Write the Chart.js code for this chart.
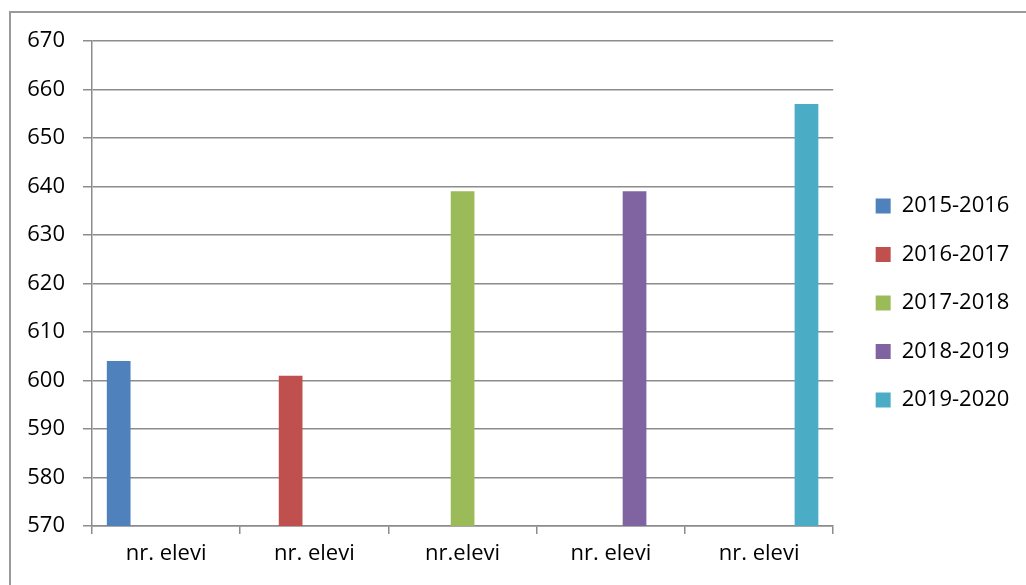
<!DOCTYPE html>
<html>
<head>
<meta charset="utf-8">
<script src="https://cdn.jsdelivr.net/npm/chart.js@4"></script>
<style>
  html, body { margin: 0; padding: 0; background: #fff; }
  #wrap { position: relative; width: 1026px; height: 585px; overflow: hidden; }
  #frame { position: absolute; left: 9px; top: 11px; width: 1100px; height: 700px; border: 2px solid #9a9a9a; pointer-events: none; }
  canvas { position: absolute; left: 0; top: 0; }
</style>
</head>
<body>
<div id="wrap">
  <canvas id="chart" width="1026" height="585"></canvas>
  <div id="frame"></div>
</div>
<script>
const categories = ['nr. elevi', 'nr. elevi', 'nr.elevi', 'nr. elevi', 'nr. elevi'];
const seasons = ['2015-2016', '2016-2017', '2017-2018', '2018-2019', '2019-2020'];
const values = [604, 601, 639, 639, 657];
const colors = ['#4F81BD', '#C0504D', '#9BBB59', '#8064A2', '#4BACC6'];
const yTicks = [570, 580, 590, 600, 610, 620, 630, 640, 650, 660, 670];

const gridColor = '#8c8c8c';
const font = { family: 'Open Sans', size: 22 };

// each season only has a value in its own column, the rest stay empty
const datasets = seasons.map((s, i) => ({
    label: s,
    data: categories.map((c, j) => (j === i ? values[i] : null)),
    backgroundColor: colors[i],
    borderWidth: 0,
    categoryPercentage: 0.8,
    barPercentage: 1.0
}));

const ctx = document.getElementById('chart').getContext('2d');

const chart = new Chart(ctx, {
    type: 'bar',
    data: {
        labels: categories,
        datasets: datasets
    },
    options: {
        responsive: false,
        animation: false,
        layout: {
            padding: { top: 41, bottom: 20, left: 0, right: 7 }
        },
        plugins: {
            legend: {
                display: true,
                position: 'right',
                align: 'center',
                labels: {
                    boxWidth: 15,
                    boxHeight: 15,
                    padding: 26.5,
                    color: '#000',
                    font: font
                }
            },
            tooltip: { enabled: false }
        },
        scales: {
            x: {
                type: 'category',
                offset: true,
                grid: {
                    display: true,
                    drawOnChartArea: false,
                    drawTicks: true,
                    tickLength: 8,
                    offset: true,
                    color: gridColor,
                    lineWidth: 1.5
                },
                border: { display: true, color: gridColor, width: 1.5 },
                ticks: { color: '#000', font: font, padding: 7, maxRotation: 0 },
                afterFit: function(scale) { scale.height = 39; }
            },
            y: {
                min: yTicks[0],
                max: yTicks[yTicks.length - 1],
                afterBuildTicks: function(scale) {
                    scale.ticks = yTicks.map(v => ({ value: v }));
                },
                grid: {
                    color: gridColor,
                    lineWidth: 1.5,
                    tickLength: 9
                },
                border: { display: true, color: gridColor, width: 1.5 },
                ticks: { color: '#000', font: font, padding: 18 },
                afterFit: function(scale) { scale.width = 92; }
            },
            // empty spacer between plot and legend
            gap: {
                type: 'linear',
                position: 'right',
                display: true,
                grid: { display: false },
                border: { display: false },
                ticks: { display: false },
                afterFit: function(scale) { scale.width = 16; }
            }
        }
    }
});
</script>
</body>
</html>
